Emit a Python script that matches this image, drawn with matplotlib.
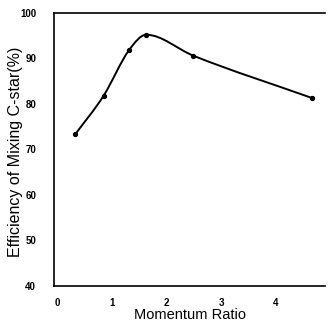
import numpy as np
import matplotlib.pyplot as plt
from matplotlib.path import Path
from matplotlib.patches import PathPatch

# momentum ratio vs mixing efficiency
momentum_ratio = [0.33, 0.85, 1.32, 1.63, 2.49, 4.66]
efficiency = [73.3, 81.8, 91.9, 95.2, 90.6, 81.3]
x_ticks = [0, 1, 2, 3, 4]
y_ticks = [40, 50, 60, 70, 80, 90, 100]


def smooth_path(x, y):
    '''cubic bezier path through the points, flat tangent at the peak'''
    x = np.asarray(x, float)
    y = np.asarray(y, float)
    n = len(x)
    slope = np.zeros(n)
    for i in range(n):
        if i == 0:
            slope[i] = (y[1] - y[0]) / (x[1] - x[0])
        elif i == n - 1:
            slope[i] = (y[-1] - y[-2]) / (x[-1] - x[-2])
        else:
            d0 = (y[i] - y[i - 1]) / (x[i] - x[i - 1])
            d1 = (y[i + 1] - y[i]) / (x[i + 1] - x[i])
            slope[i] = 0 if d0 * d1 <= 0 else (d0 + d1) / 2
    verts = [(x[0], y[0])]
    codes = [Path.MOVETO]
    for i in range(n - 1):
        h = (x[i + 1] - x[i]) / 3
        verts += [(x[i] + h, y[i] + h * slope[i]),
                  (x[i + 1] - h, y[i + 1] - h * slope[i + 1]),
                  (x[i + 1], y[i + 1])]
        codes += [Path.CURVE4] * 3
    return Path(verts, codes)


plt.rcParams['font.family'] = ['Liberation Sans', 'DejaVu Sans']

fig = plt.figure(figsize=(3.28, 3.22), dpi=100)
ax = fig.add_axes([0.165, 0.112, 0.826, 0.848])

ax.add_patch(PathPatch(smooth_path(momentum_ratio, efficiency),
                       facecolor='none', edgecolor='black', lw=1.4))
ax.plot(momentum_ratio, efficiency, 'o', color='black', ms=2.8)

ax.set_xlim(-0.055, 4.9)
ax.set_ylim(40, 100)
ax.set_xticks(x_ticks)
ax.set_yticks(y_ticks)
ax.tick_params(axis='x', length=0, labelsize=7, pad=9)
ax.tick_params(axis='y', length=0, labelsize=7, pad=13)
for lab in ax.get_xticklabels() + ax.get_yticklabels():
    lab.set_fontweight('bold')
ax.spines['right'].set_visible(False)
for s in ['left', 'top', 'bottom']:
    ax.spines[s].set_linewidth(1.2)

ax.set_xlabel('Momentum Ratio', fontsize=10.5, labelpad=0)
ax.set_ylabel('Efficiency of Mixing C-star(%)', fontsize=11.5)
ax.yaxis.set_label_coords(-0.115, 0.49)

fig.savefig('out.png', dpi=100)
